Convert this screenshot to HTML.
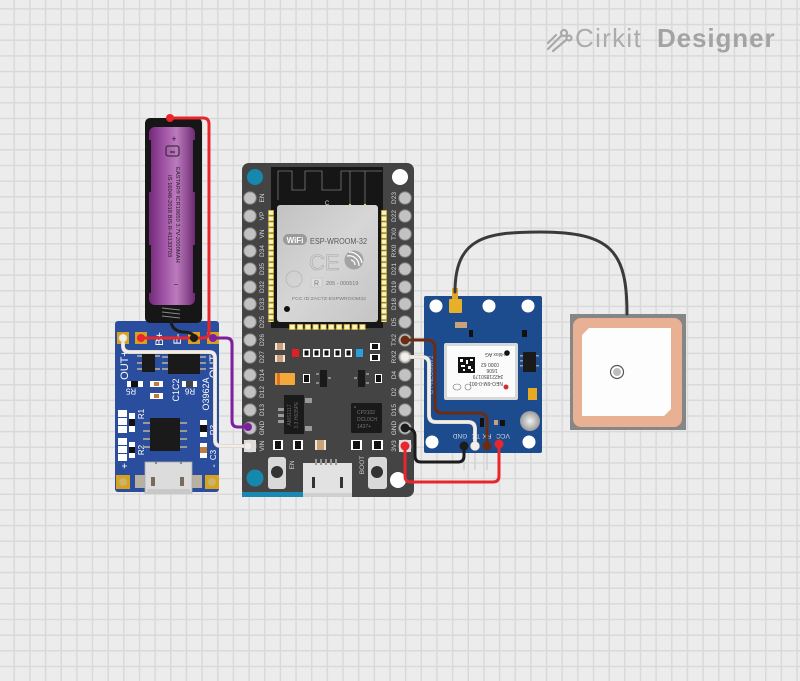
<!DOCTYPE html>
<html><head><meta charset="utf-8"><style>
html,body{margin:0;padding:0;}
body{width:800px;height:681px;overflow:hidden;background-color:#ececec;
background-image:linear-gradient(to right,#d9d9d9 0,#d9d9d9 1.6px,transparent 1.6px),linear-gradient(to bottom,#d9d9d9 0,#d9d9d9 1.6px,transparent 1.6px);
background-size:15.67px 15.67px;background-position:13.5px 8.2px;position:relative;}
svg{position:absolute;left:0;top:0;}
text{font-family:"Liberation Sans",sans-serif;}
</style></head><body>
<svg width="800" height="681" viewBox="0 0 800 681" xmlns="http://www.w3.org/2000/svg">
<defs>
<linearGradient id="bat" x1="0" x2="1" y1="0" y2="0">
<stop offset="0" stop-color="#74287a"/><stop offset="0.35" stop-color="#a457a8"/><stop offset="0.6" stop-color="#bb7bbd"/><stop offset="1" stop-color="#6e2a72"/>
</linearGradient>
<linearGradient id="can" x1="0" x2="1" y1="0" y2="1">
<stop offset="0" stop-color="#c2c2c2"/><stop offset="0.5" stop-color="#d6d6d6"/><stop offset="1" stop-color="#c4c4c4"/>
</linearGradient>
<radialGradient id="silver"><stop offset="0" stop-color="#f2f2f2"/><stop offset="1" stop-color="#9a9a9a"/></radialGradient>
<pattern id="padV" x="268" y="210" width="6" height="5.8" patternUnits="userSpaceOnUse">
<rect x="0.5" y="0.5" width="5" height="4.6" fill="#f6f1cf" stroke="#d2b420" stroke-width="0.8"/></pattern>
<pattern id="padV2" x="381" y="210" width="6" height="5.8" patternUnits="userSpaceOnUse">
<rect x="0.5" y="0.5" width="5" height="4.6" fill="#f6f1cf" stroke="#d2b420" stroke-width="0.8"/></pattern>
<pattern id="padH" x="289" y="324" width="7.8" height="6" patternUnits="userSpaceOnUse">
<rect x="0.5" y="0.5" width="5.5" height="5" fill="#f6f1cf" stroke="#d2b420" stroke-width="0.8"/></pattern>
</defs>

<!-- Logo -->
<g stroke="#a9a9a9" stroke-width="2.2" fill="none" stroke-linecap="round">
<line x1="548" y1="49" x2="561" y2="36"/><circle cx="564" cy="33" r="3"/>
<line x1="553" y1="51" x2="566" y2="40"/><circle cx="569" cy="38" r="2.5"/>
<line x1="548" y1="43" x2="556" y2="35"/>
</g>
<text x="575" y="47" font-size="26" fill="#ababab" letter-spacing="1.3">Cirkit</text>
<text x="657" y="47" font-size="26" font-weight="bold" fill="#a3a3a3" letter-spacing="0.9">Designer</text>

<!-- TP4056 board -->
<rect x="115" y="321" width="104" height="171" rx="3" fill="#2b4d9d"/>
<g fill="#d8a21f">
<rect x="117" y="332" width="12" height="12"/><rect x="135" y="332" width="12" height="12"/>
<rect x="188" y="332" width="12" height="12"/><rect x="207" y="332" width="12" height="12"/>
<rect x="116" y="475" width="14" height="14"/><rect x="205" y="475" width="14" height="14"/>
</g>
<circle cx="123" cy="482" r="4" fill="#c9b46a"/><circle cx="212" cy="482" r="4" fill="#c9b46a"/>
<g fill="#fff" font-size="11">
<text transform="translate(163,339) rotate(-90)" text-anchor="middle">B+</text>
<text transform="translate(181,339) rotate(-90)" text-anchor="middle">B-</text>
<text transform="translate(128,365) rotate(-90)" text-anchor="middle">OUT+</text>
<text transform="translate(217,365) rotate(-90)" text-anchor="middle">OUT-</text>
</g>
<!-- small chips -->
<rect x="142" y="353" width="13" height="19" fill="#1a1a1a"/>
<g fill="#9a9a9a"><rect x="137" y="355" width="5" height="2"/><rect x="137" y="362" width="5" height="2"/><rect x="137" y="368" width="5" height="2"/><rect x="155" y="355" width="5" height="2"/><rect x="155" y="368" width="5" height="2"/></g>
<rect x="168" y="354" width="32" height="20" fill="#1a1a1a"/>
<g fill="#9a9a9a"><rect x="162" y="356" width="6" height="2"/><rect x="162" y="362" width="6" height="2"/><rect x="162" y="368" width="6" height="2"/><rect x="200" y="356" width="6" height="2"/><rect x="200" y="362" width="6" height="2"/><rect x="200" y="368" width="6" height="2"/></g>
<!-- resistors / caps -->
<rect x="127" y="381" width="16" height="6" fill="#fff"/><rect x="131" y="381" width="7" height="6" fill="#111"/>
<rect x="150" y="381" width="13" height="6" fill="#fff"/><rect x="154" y="382" width="5" height="4" fill="#c07a3a"/>
<rect x="150" y="393" width="13" height="6" fill="#fff"/><rect x="154" y="394" width="5" height="4" fill="#c07a3a"/>
<rect x="182" y="381" width="15" height="6" fill="#fff"/><rect x="186" y="381" width="7" height="6" fill="#444"/>
<g fill="#fff" font-size="8">
<text transform="translate(131,391) rotate(180)" text-anchor="middle" dominant-baseline="central">R5</text>
<text transform="translate(190,391) rotate(180)" text-anchor="middle" dominant-baseline="central">R6</text>
<text transform="translate(179,390) rotate(-90)" text-anchor="middle" font-size="9">C1C2</text>
<text transform="translate(209,394) rotate(-90)" text-anchor="middle" font-size="9">O3962A</text>
<text transform="translate(144,414) rotate(-90)" text-anchor="middle">R1</text>
<text transform="translate(144,450) rotate(-90)" text-anchor="middle">R2</text>
<text transform="translate(216,430) rotate(-90)" text-anchor="middle">R3</text>
<text transform="translate(216,455) rotate(-90)" text-anchor="middle">C3</text>
<text transform="translate(128,466) rotate(-90)" text-anchor="middle" font-size="10">+</text>
<text transform="translate(217,466) rotate(-90)" text-anchor="middle" font-size="10">-</text>
</g>
<g fill="#fff"><rect x="118" y="410" width="9" height="7"/><rect x="118" y="418" width="9" height="7"/><rect x="118" y="426" width="9" height="7"/>
<rect x="118" y="438" width="9" height="7"/><rect x="118" y="446" width="9" height="7"/><rect x="118" y="454" width="9" height="7"/>
<rect x="129" y="413" width="6" height="19"/><rect x="129" y="442" width="6" height="16"/>
<rect x="200" y="420" width="7" height="17"/><rect x="200" y="443" width="7" height="15"/></g>
<rect x="129" y="419" width="6" height="7" fill="#111"/><rect x="129" y="447" width="6" height="6" fill="#111"/>
<rect x="200" y="425" width="7" height="7" fill="#111"/><rect x="200" y="447" width="7" height="6" fill="#c07a3a"/>
<!-- main chip -->
<rect x="150" y="418" width="30" height="33" fill="#1a1a1a"/>
<g fill="#9a9a9a"><rect x="143" y="422" width="7" height="2"/><rect x="143" y="430" width="7" height="2"/><rect x="143" y="438" width="7" height="2"/><rect x="143" y="446" width="7" height="2"/>
<rect x="180" y="422" width="7" height="2"/><rect x="180" y="430" width="7" height="2"/><rect x="180" y="438" width="7" height="2"/><rect x="180" y="446" width="7" height="2"/></g>
<!-- micro usb -->
<rect x="135" y="475" width="11" height="13" fill="#b8b0a0"/><rect x="191" y="475" width="11" height="13" fill="#b8b0a0"/>
<rect x="145" y="462" width="47" height="31" fill="#dcdcdc" stroke="#aaa" stroke-width="0.8"/>
<rect x="147" y="489" width="43" height="4" fill="#c8c8c8"/>
<rect x="151" y="477" width="4" height="9" fill="#7a6a5a"/><rect x="180" y="477" width="4" height="9" fill="#7a6a5a"/>
<circle cx="156" cy="463" r="1.2" fill="#888"/><circle cx="181" cy="463" r="1.2" fill="#888"/>

<!-- Battery -->
<rect x="145" y="118" width="57" height="205" rx="5" fill="#161616"/>
<rect x="149" y="127" width="46" height="178" rx="6" fill="url(#bat)"/>
<rect x="145" y="140" width="6" height="52" fill="#161616"/><rect x="193" y="140" width="6" height="52" fill="#161616"/>
<rect x="145" y="245" width="6" height="48" fill="#161616"/><rect x="193" y="245" width="6" height="48" fill="#161616"/>
<g stroke="#888" stroke-width="1"><line x1="162" y1="308" x2="180" y2="310"/><line x1="162" y1="312" x2="180" y2="314"/><line x1="162" y1="316" x2="180" y2="318"/></g>
<text x="174" y="142" font-size="9" fill="#2a1a2a" text-anchor="middle">+</text>
<rect x="166" y="146" width="13" height="10" rx="2" fill="none" stroke="#222" stroke-width="1"/>
<text x="172.5" y="154" font-size="7" font-weight="bold" fill="#222" text-anchor="middle">∞</text>
<g fill="#2a1a2a" font-size="5.8">
<text transform="translate(176,167) rotate(90)">EASTAR® ICR18650 3.7V-2000MAH</text>
<text transform="translate(168,175) rotate(90)">IS 16046-2018 BIS R-41133703</text>
</g>
<text x="176" y="287" font-size="8" fill="#2a1a2a" text-anchor="middle">−</text>

<!-- ESP32 board -->
<rect x="242" y="163" width="172" height="334" rx="7" fill="#444444"/>
<rect x="242" y="492" width="61" height="5" fill="#1a88b2"/>
<circle cx="255" cy="177" r="8" fill="#1688ad"/>
<circle cx="400" cy="177" r="8" fill="#ffffff"/>
<circle cx="255" cy="478" r="8.5" fill="#1688ad"/>
<circle cx="398" cy="480" r="8" fill="#ffffff"/>
<!-- module -->
<rect x="271" y="167" width="112" height="161" fill="#161616"/>
<g stroke="#7a7a7a" stroke-width="0.8" fill="none">
<path d="M278,200 V171 H292 V190 H305 V171 H322 V190 H341 V171 H382"/>
<path d="M350,171 V205 M365,171 V205"/>
</g>
<circle cx="350" cy="205" r="1.2" fill="#e8d060"/><circle cx="365" cy="205" r="1.2" fill="#e8d060"/>
<text x="327" y="205" font-size="6" fill="#ddd" text-anchor="middle">C</text>
<rect x="268" y="210" width="6" height="112" fill="url(#padV)"/>
<rect x="381" y="210" width="6" height="112" fill="url(#padV2)"/>
<rect x="277" y="205" width="101" height="117" rx="3" fill="url(#can)"/>
<rect x="289" y="324" width="78" height="6" fill="url(#padH)"/>
<rect x="283" y="234" width="24" height="11" rx="5.5" fill="#9a9a9a"/>
<text x="295" y="243" font-size="8" font-weight="bold" fill="#fff" text-anchor="middle">WiFi</text>
<text x="310" y="244" font-size="8" fill="#5a5a5a" textLength="57" lengthAdjust="spacingAndGlyphs">ESP-WROOM-32</text>
<text x="309" y="270" font-size="22" fill="none" stroke="#aaa" stroke-width="0.6">CE</text>
<circle cx="354" cy="260" r="9.5" fill="#a3a3a3"/>
<g stroke="#fff" stroke-width="1.3" fill="none"><path d="M347,256 A10,10 0 0 1 359,266"/><path d="M349,252 A13,13 0 0 1 362,263"/><path d="M351,260 A5,5 0 0 1 355,265"/></g>
<circle cx="294" cy="279" r="8" fill="none" stroke="#b5b5b5" stroke-width="0.8"/>
<rect x="311" y="278" width="11" height="9" fill="#ddd" stroke="#bbb" stroke-width="0.5"/>
<text x="316.5" y="285.5" font-size="7" fill="#777" text-anchor="middle">R</text>
<text x="326" y="285" font-size="5.5" fill="#777">205 - 000519</text>
<text x="292" y="300" font-size="4.6" fill="#777" textLength="74" lengthAdjust="spacingAndGlyphs">FCC ID:2AC7Z-ESPWROOM32</text>
<circle cx="287" cy="309" r="3" fill="#111"/>
<!-- lower components -->
<g>
<rect x="275" y="343" width="10" height="7" fill="#f0e6d8"/><rect x="277" y="343" width="6" height="7" fill="#c9a27a"/>
<rect x="275" y="355" width="10" height="7" fill="#f0e6d8"/><rect x="277" y="355" width="6" height="7" fill="#c9a27a"/>
<rect x="292" y="349" width="7" height="8" fill="#e01f26"/>
<g fill="#fff"><rect x="303" y="349" width="7" height="8"/><rect x="313" y="349" width="7" height="8"/><rect x="323" y="349" width="7" height="8"/><rect x="334" y="349" width="7" height="8"/><rect x="345" y="349" width="7" height="8"/>
<rect x="370" y="343" width="10" height="7"/><rect x="370" y="354" width="10" height="7"/>
<rect x="303" y="374" width="7" height="9"/><rect x="375" y="374" width="7" height="9"/>
<rect x="273" y="440" width="10" height="10"/><rect x="293" y="440" width="10" height="10"/><rect x="351" y="440" width="11" height="10"/><rect x="372" y="440" width="11" height="10"/></g>
<g fill="#111"><rect x="304.5" y="350.5" width="4" height="5"/><rect x="314.5" y="350.5" width="4" height="5"/><rect x="324.5" y="350.5" width="4" height="5"/><rect x="335.5" y="350.5" width="4" height="5"/><rect x="346.5" y="350.5" width="4" height="5"/>
<rect x="372" y="344" width="6" height="5"/><rect x="372" y="355" width="6" height="5"/>
<rect x="304" y="375" width="5" height="7"/><rect x="376" y="375" width="5" height="7"/>
<rect x="275" y="441" width="6" height="8"/><rect x="295" y="441" width="6" height="8"/><rect x="353" y="441" width="7" height="8"/><rect x="374" y="441" width="7" height="8"/></g>
<rect x="356" y="349" width="7" height="8" fill="#2a9fe0"/>
<rect x="315" y="440" width="11" height="10" fill="#f0e6d8"/><rect x="317" y="440" width="7" height="10" fill="#c9a27a"/>
<rect x="275" y="373" width="20" height="12" rx="1" fill="#f3a93a"/><rect x="277" y="373" width="3" height="12" fill="#d8732a"/>
<rect x="320" y="370" width="7" height="17" fill="#1a1a1a"/><rect x="358" y="370" width="7" height="17" fill="#1a1a1a"/>
<g fill="#888"><rect x="316" y="373" width="3" height="2"/><rect x="316" y="382" width="3" height="2"/><rect x="328" y="377" width="3" height="2"/><rect x="354" y="377" width="3" height="2"/><rect x="366" y="373" width="3" height="2"/><rect x="366" y="382" width="3" height="2"/></g>
<!-- AMS1117 -->
<rect x="284" y="395" width="20" height="39" fill="#1a1a1a"/>
<g fill="#9a9a9a"><rect x="278" y="408" width="6" height="3"/><rect x="278" y="414" width="6" height="3"/><rect x="278" y="420" width="6" height="3"/><rect x="305" y="398" width="7" height="5"/><rect x="305" y="426" width="7" height="5"/></g>
<text transform="translate(291,415) rotate(-90)" font-size="5" fill="#666" text-anchor="middle">AMS1117</text>
<text transform="translate(298,415) rotate(-90)" font-size="5" fill="#666" text-anchor="middle">3.3 H635PE</text>
<!-- CP2102 -->
<rect x="351" y="403" width="31" height="30" rx="1.5" fill="#1a1a1a"/>
<circle cx="355" cy="407" r="1" fill="#555"/>
<g font-size="5" fill="#777"><text x="357" y="414">CP2102</text><text x="357" y="421">DCL0CH</text><text x="357" y="428">1437+</text></g>
<!-- buttons -->
<rect x="268" y="457" width="18" height="32" rx="3" fill="#d9d9d9"/><circle cx="277" cy="472" r="6" fill="#333"/>
<rect x="368" y="457" width="19" height="32" rx="3" fill="#d9d9d9"/><circle cx="377" cy="472" r="6" fill="#333"/>
<text transform="translate(294,465) rotate(-90)" font-size="6.5" fill="#ccc" text-anchor="middle">EN</text>
<text transform="translate(364,465) rotate(-90)" font-size="6.5" fill="#ccc" text-anchor="middle">BOOT</text>
<!-- usb -->
<rect x="303" y="463" width="49" height="34" fill="#e2e2e2"/>
<rect x="303" y="493" width="49" height="4" fill="#cfcfcf"/>
<g fill="#999"><rect x="315" y="459" width="2" height="6"/><rect x="320" y="459" width="2" height="6"/><rect x="325" y="459" width="2" height="6"/><rect x="330" y="459" width="2" height="6"/><rect x="335" y="459" width="2" height="6"/></g>
<rect x="312" y="477" width="3" height="11" fill="#333"/><rect x="340" y="477" width="3" height="11" fill="#333"/>
</g>
<!-- ESP pins -->
<g fill="#c2c2c2" stroke="#7c7c7c" stroke-width="1">
<circle cx="250" cy="198" r="6.3"/><circle cx="250" cy="216" r="6.3"/><circle cx="250" cy="234" r="6.3"/><circle cx="250" cy="251" r="6.3"/><circle cx="250" cy="269" r="6.3"/><circle cx="250" cy="287" r="6.3"/><circle cx="250" cy="304" r="6.3"/><circle cx="250" cy="322" r="6.3"/><circle cx="250" cy="340" r="6.3"/><circle cx="250" cy="357" r="6.3"/><circle cx="250" cy="375" r="6.3"/><circle cx="250" cy="392" r="6.3"/><circle cx="250" cy="410" r="6.3"/><circle cx="250" cy="428" r="6.3"/><circle cx="250" cy="446" r="6.3"/>
<circle cx="405" cy="198" r="6.3"/><circle cx="405" cy="216" r="6.3"/><circle cx="405" cy="234" r="6.3"/><circle cx="405" cy="251" r="6.3"/><circle cx="405" cy="269" r="6.3"/><circle cx="405" cy="287" r="6.3"/><circle cx="405" cy="304" r="6.3"/><circle cx="405" cy="322" r="6.3"/><circle cx="405" cy="340" r="6.3"/><circle cx="405" cy="357" r="6.3"/><circle cx="405" cy="375" r="6.3"/><circle cx="405" cy="392" r="6.3"/><circle cx="405" cy="410" r="6.3"/><circle cx="405" cy="428" r="6.3"/><circle cx="405" cy="446" r="6.3"/>
</g>
<g font-size="6.5" fill="#d6d6d6" text-anchor="middle">
<text transform="translate(264,198) rotate(-90)">EN</text><text transform="translate(264,216) rotate(-90)">VP</text><text transform="translate(264,234) rotate(-90)">VN</text><text transform="translate(264,251) rotate(-90)">D34</text><text transform="translate(264,269) rotate(-90)">D35</text><text transform="translate(264,287) rotate(-90)">D32</text><text transform="translate(264,304) rotate(-90)">D33</text><text transform="translate(264,322) rotate(-90)">D25</text><text transform="translate(264,340) rotate(-90)">D26</text><text transform="translate(264,357) rotate(-90)">D27</text><text transform="translate(264,375) rotate(-90)">D14</text><text transform="translate(264,392) rotate(-90)">D12</text><text transform="translate(264,410) rotate(-90)">D13</text><text transform="translate(264,428) rotate(-90)">GND</text><text transform="translate(264,446) rotate(-90)">VIN</text>
<text transform="translate(396,198) rotate(-90)">D23</text><text transform="translate(396,216) rotate(-90)">D22</text><text transform="translate(396,234) rotate(-90)">TX0</text><text transform="translate(396,251) rotate(-90)">RX0</text><text transform="translate(396,269) rotate(-90)">D21</text><text transform="translate(396,287) rotate(-90)">D19</text><text transform="translate(396,304) rotate(-90)">D18</text><text transform="translate(396,322) rotate(-90)">D5</text><text transform="translate(396,340) rotate(-90)">TX2</text><text transform="translate(396,357) rotate(-90)">RX2</text><text transform="translate(396,375) rotate(-90)">D4</text><text transform="translate(396,392) rotate(-90)">D2</text><text transform="translate(396,410) rotate(-90)">D15</text><text transform="translate(396,428) rotate(-90)">GND</text><text transform="translate(396,446) rotate(-90)">3V3</text>
</g>
<rect x="399" y="440" width="12" height="12" fill="#ddd"/>
<rect x="244" y="440" width="12" height="12" fill="#ddd"/>

<!-- GPS board -->
<rect x="424" y="296" width="118" height="157" rx="2" fill="#1d4c8e"/>
<g stroke="#ccc" stroke-width="1.2"><line x1="464" y1="453" x2="464" y2="470"/><line x1="475" y1="453" x2="475" y2="470"/><line x1="487" y1="453" x2="487" y2="470"/><line x1="499" y1="453" x2="499" y2="470"/></g>
<g fill="#fff"><circle cx="436" cy="306" r="6.5"/><circle cx="489" cy="306" r="6.5"/><circle cx="528" cy="306" r="6.5"/><circle cx="432" cy="442" r="6.5"/><circle cx="529" cy="442" r="6.5"/></g>
<rect x="452" y="288" width="6" height="13" fill="#e0a828"/><rect x="449" y="299" width="13" height="14" rx="1" fill="#e6b02a"/>
<rect x="455" y="322" width="12" height="6" fill="#c9a27a"/>
<rect x="469" y="330" width="4" height="7" fill="#111"/><rect x="522" y="330" width="5" height="7" fill="#111"/>
<rect x="444" y="343" width="74" height="57" rx="2" fill="#d8d8d8"/>
<rect x="447" y="346" width="68" height="51" fill="#fbfbfb"/>
<rect x="458" y="357" width="17" height="16" fill="#111"/>
<g fill="#fff"><rect x="460" y="359" width="3" height="3"/><rect x="466" y="360" width="2" height="4"/><rect x="470" y="359" width="3" height="2"/><rect x="461" y="365" width="4" height="2"/><rect x="468" y="366" width="3" height="3"/><rect x="463" y="369" width="2" height="2"/><rect x="471" y="369" width="2" height="2"/></g>
<g font-size="5" fill="#444" text-anchor="middle">
<text transform="translate(486,382) rotate(180)">NEO-6M-0-001</text>
<text transform="translate(488,375) rotate(180)">34221850179</text>
<text transform="translate(492,369) rotate(180)">1606</text>
<text transform="translate(490,363) rotate(180)">0300 62</text>
<text transform="translate(496,353) rotate(180)">u-blox AG</text>
</g>
<circle cx="507" cy="353" r="2.8" fill="#111"/>
<ellipse cx="457" cy="387" rx="4" ry="3" fill="none" stroke="#777" stroke-width="0.6"/>
<ellipse cx="468" cy="387" rx="3" ry="3" fill="none" stroke="#777" stroke-width="0.6"/>
<circle cx="506" cy="387" r="2.5" fill="#d23030"/>
<rect x="523" y="352" width="13" height="20" fill="#1a1a1a"/>
<g fill="#9a9a9a"><rect x="520" y="355" width="3" height="1.5"/><rect x="520" y="360" width="3" height="1.5"/><rect x="520" y="365" width="3" height="1.5"/><rect x="536" y="355" width="3" height="1.5"/><rect x="536" y="365" width="3" height="1.5"/></g>
<rect x="528" y="388" width="9" height="12" fill="#e6aa22"/>
<circle cx="530" cy="421" r="10" fill="url(#silver)"/>
<rect x="480" y="418" width="4" height="9" fill="#111"/><rect x="494" y="420" width="4" height="5" fill="#c9a27a"/><rect x="500" y="420" width="5" height="6" fill="#111"/>
<text transform="translate(433,375) rotate(-90)" font-size="6" fill="#8aa8d0" text-anchor="middle">GY-NEO6MV2</text>
<g font-size="6.5" fill="#d0d8e8" text-anchor="middle">
<text transform="translate(460,434) rotate(180)">GND</text>
<text transform="translate(476,434) rotate(180)">TX</text>
<text transform="translate(487,434) rotate(180)">RX</text>
<text transform="translate(503,434) rotate(180)">VCC</text>
</g>

<!-- Patch antenna -->
<rect x="570" y="314" width="116" height="116" fill="#868686"/>
<rect x="573" y="318" width="109" height="109" rx="8" fill="#e8b193"/>
<path d="M589,328 H671 V409 L664,416 H582 V335 Z" fill="#fdfdfd"/>
<circle cx="617" cy="372" r="6.5" fill="#fff" stroke="#555" stroke-width="1.2"/>
<circle cx="617" cy="372" r="4" fill="#bdbdbd"/>

<!-- Wires -->
<g fill="none" stroke-linecap="round" stroke-linejoin="round" stroke-width="3">
<path d="M455,292 C455,238 485,232 540,232 C612,232 627,252 627,314" stroke="#3a3a3a"/>
<path d="M170,118 H203 Q209,118 209,124 V332 Q209,338 203,338 H141" stroke="#e8262b"/>
<path d="M171,320 Q171,330 182,332 Q194,332 194,338" stroke="#1c1c1c"/>
<path d="M213,338 H226 Q232,338 232,344 V421 Q232,427 238,427 H248" stroke="#7d1fa0"/>
<path d="M123,338 V346 Q123,352 130,352 H209 Q215,352 215,358 V440 Q215,446 221,446 H248" stroke="#cfcac2" stroke-width="4"/>
<path d="M123,338 V346 Q123,352 130,352 H209 Q215,352 215,358 V440 Q215,446 221,446 H248" stroke="#f2eee7"/>
<path d="M405,340 H427 Q435,340 435,348 V406 Q435,413 442,413 H479 Q487,413 487,421 V446" stroke="#6b2c12"/>
<path d="M405,357 H422 Q429,357 429,364 V415 Q429,422 436,422 H468 Q475,422 475,429 V446" stroke="#cfcac2" stroke-width="4"/>
<path d="M405,357 H422 Q429,357 429,364 V415 Q429,422 436,422 H468 Q475,422 475,429 V446" stroke="#f2eee7"/>
<path d="M405,428 Q415,428 415,436 V456 Q415,462 421,462 H458 Q464,462 464,456 V446" stroke="#1c1c1c"/>
<path d="M405,446 V476 Q405,482 411,482 H493 Q499,482 499,476 V444" stroke="#e8262b"/>
</g>
<g>
<circle cx="170" cy="118" r="4" fill="#e8262b"/>
<circle cx="141" cy="338" r="4" fill="#e8262b"/>
<circle cx="194" cy="338" r="4" fill="#1c1c1c"/>
<circle cx="213" cy="338" r="4" fill="#7d1fa0"/>
<circle cx="248" cy="427" r="4" fill="#7d1fa0"/>
<circle cx="123" cy="338" r="4" fill="#f2eee7" stroke="#cfcac2" stroke-width="0.6"/>
<circle cx="248" cy="446" r="4" fill="#f2eee7" stroke="#cfcac2" stroke-width="0.6"/>
<circle cx="405" cy="340" r="4.5" fill="#6b2c12"/>
<circle cx="487" cy="446" r="4.5" fill="#6b2c12"/>
<circle cx="405" cy="357" r="4.5" fill="#f2eee7" stroke="#cfcac2" stroke-width="0.6"/>
<circle cx="475" cy="446" r="4.5" fill="#f2eee7" stroke="#cfcac2" stroke-width="0.6"/>
<circle cx="405" cy="428" r="4.5" fill="#1c1c1c"/>
<circle cx="464" cy="446" r="4.5" fill="#1c1c1c"/>
<circle cx="405" cy="446" r="4.5" fill="#e8262b"/>
<circle cx="499" cy="444" r="4.5" fill="#e8262b"/>
</g>
</svg>
</body></html>
